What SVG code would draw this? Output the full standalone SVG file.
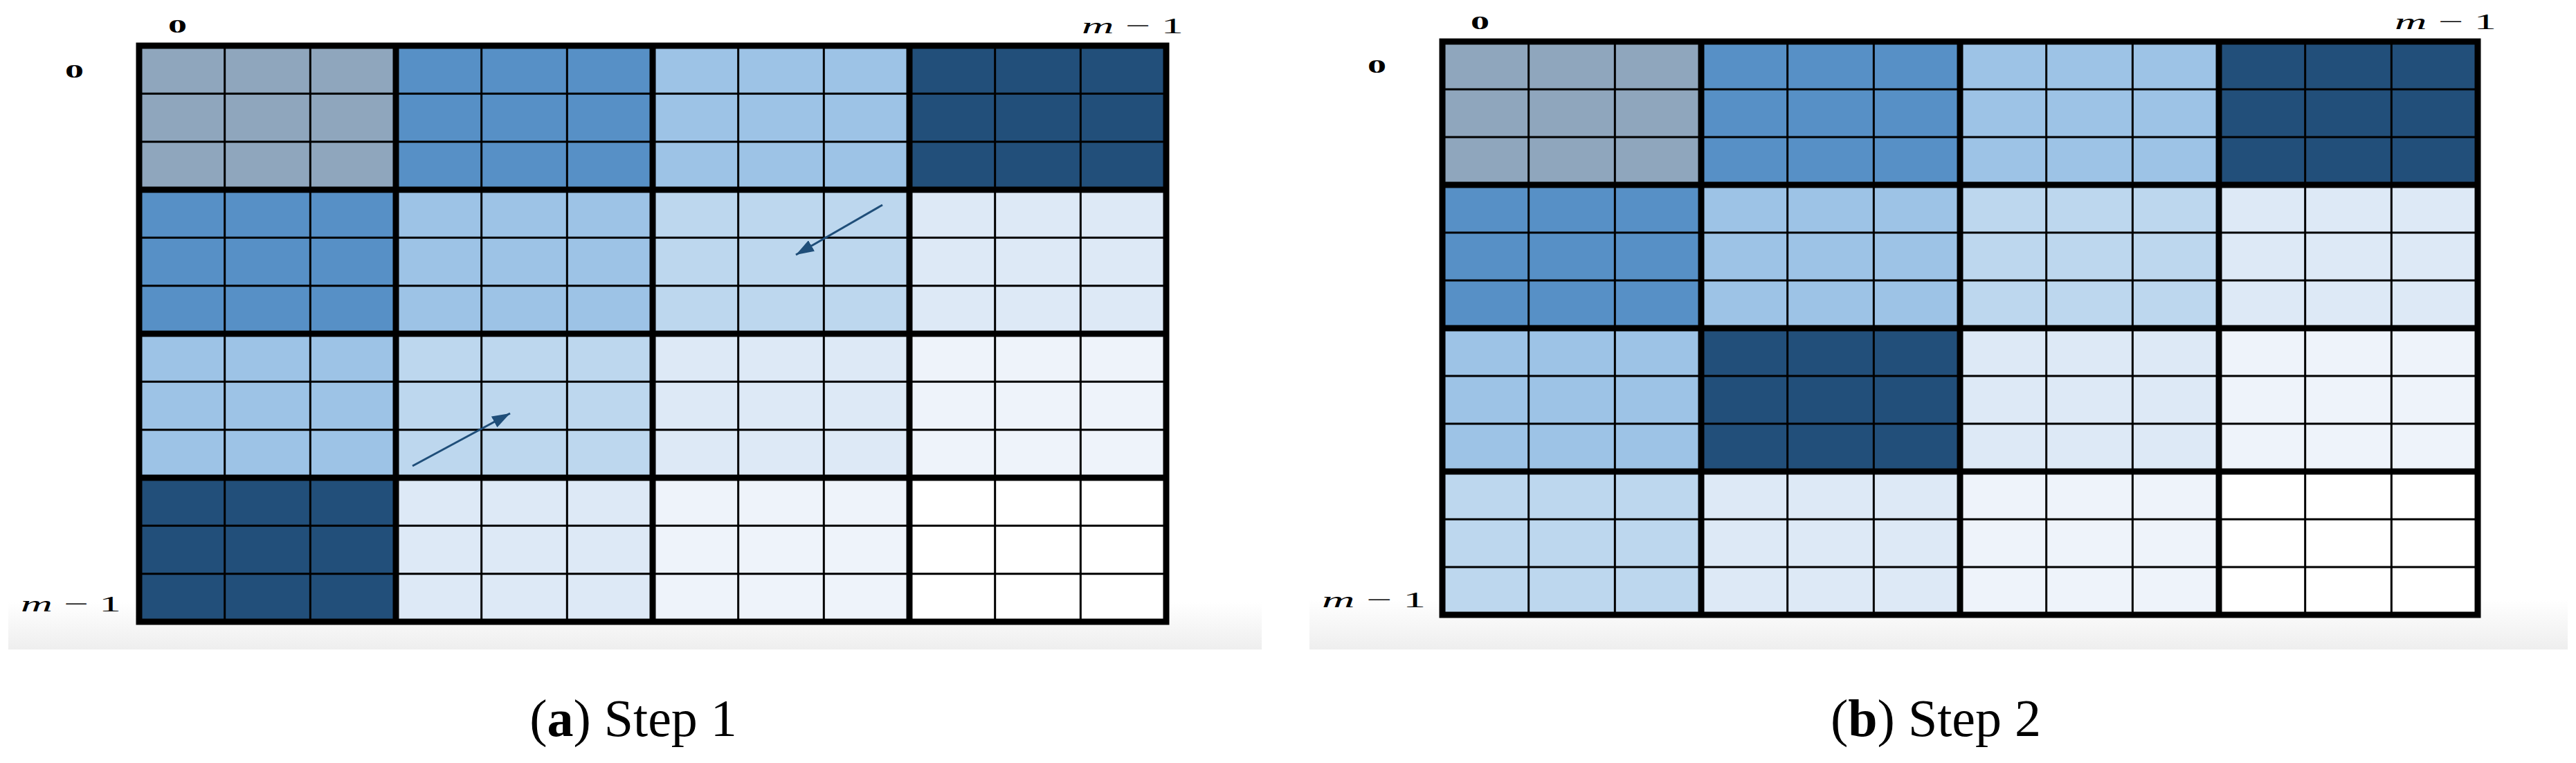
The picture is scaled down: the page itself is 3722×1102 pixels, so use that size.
<svg xmlns="http://www.w3.org/2000/svg" width="3722" height="1102" viewBox="0 0 3722 1102">
<style>
.gray{fill:#8FA6BD}.med{fill:#5790C6}.light{fill:#9DC3E6}.lighter{fill:#BDD7EE}.vlight{fill:#DDE9F6}.lightest{fill:#EEF3FA}.navy{fill:#224F7A}.white{fill:#FFFFFF}
.thin{fill:none;stroke:#000;stroke-width:3}
.thick{fill:none;stroke:#000;stroke-width:9;stroke-linecap:square}
.lbl{font-family:"Liberation Serif","DejaVu Serif",serif;fill:#000}
.zero{font-weight:bold;font-size:28px}
.mm{font-size:32px}
.cap{font-family:"Liberation Serif","DejaVu Serif",serif;font-size:76px;fill:#000}
.conn{stroke:#1F4E79;stroke-width:3;fill:none}
</style>
<defs>
<linearGradient id="band" x1="0" y1="0" x2="0" y2="1">
<stop offset="0" stop-color="#ffffff"/>
<stop offset="1" stop-color="#eeeeee"/>
</linearGradient>
<marker id="ah" markerUnits="userSpaceOnUse" markerWidth="28" markerHeight="18" refX="26" refY="9" orient="auto">
<path d="M0,0 L26,9 L0,18 z" fill="#1F4E79"/>
</marker>
</defs>
<rect x="0" y="0" width="3722" height="1102" fill="#ffffff"/>
<rect x="12" y="870" width="1811" height="68" fill="url(#band)"/>
<rect x="1892" y="866" width="1818" height="72" fill="url(#band)"/>

<g id="panel-a" transform="translate(201,66)">
<g id="a-blocks">
<rect id="a-b00" class="gray" x="0" y="0" width="371" height="208"/>
<rect id="a-b01" class="med" x="371" y="0" width="371" height="208"/>
<rect id="a-b02" class="light" x="742" y="0" width="371" height="208"/>
<rect id="a-b03" class="navy" x="1113" y="0" width="371" height="208"/>
<rect id="a-b10" class="med" x="0" y="208" width="371" height="208"/>
<rect id="a-b11" class="light" x="371" y="208" width="371" height="208"/>
<rect id="a-b12" class="lighter" x="742" y="208" width="371" height="208"/>
<rect id="a-b13" class="vlight" x="1113" y="208" width="371" height="208"/>
<rect id="a-b20" class="light" x="0" y="416" width="371" height="208"/>
<rect id="a-b21" class="lighter" x="371" y="416" width="371" height="208"/>
<rect id="a-b22" class="vlight" x="742" y="416" width="371" height="208"/>
<rect id="a-b23" class="lightest" x="1113" y="416" width="371" height="208"/>
<rect id="a-b30" class="navy" x="0" y="624" width="371" height="208"/>
<rect id="a-b31" class="vlight" x="371" y="624" width="371" height="208"/>
<rect id="a-b32" class="lightest" x="742" y="624" width="371" height="208"/>
<rect id="a-b33" class="white" x="1113" y="624" width="371" height="208"/>
</g>
<path class="thin" d="M123.67,0V832M247.33,0V832M494.67,0V832M618.33,0V832M865.67,0V832M989.33,0V832M1236.67,0V832M1360.33,0V832M0,69.33H1484M0,138.67H1484M0,277.33H1484M0,346.67H1484M0,485.33H1484M0,554.67H1484M0,693.33H1484M0,762.67H1484"/>
<path class="thick" d="M0,0V832M371,0V832M742,0V832M1113,0V832M1484,0V832M0,0H1484M0,208H1484M0,416H1484M0,624H1484M0,832H1484"/>
</g>

<g id="panel-b" transform="translate(2084,60)">
<g id="b-blocks">
<rect id="b-b00" class="gray" x="0" y="0" width="374" height="207"/>
<rect id="b-b01" class="med" x="374" y="0" width="374" height="207"/>
<rect id="b-b02" class="light" x="748" y="0" width="374" height="207"/>
<rect id="b-b03" class="navy" x="1122" y="0" width="374" height="207"/>
<rect id="b-b10" class="med" x="0" y="207" width="374" height="207"/>
<rect id="b-b11" class="light" x="374" y="207" width="374" height="207"/>
<rect id="b-b12" class="lighter" x="748" y="207" width="374" height="207"/>
<rect id="b-b13" class="vlight" x="1122" y="207" width="374" height="207"/>
<rect id="b-b20" class="light" x="0" y="414" width="374" height="207"/>
<rect id="b-b21" class="navy" x="374" y="414" width="374" height="207"/>
<rect id="b-b22" class="vlight" x="748" y="414" width="374" height="207"/>
<rect id="b-b23" class="lightest" x="1122" y="414" width="374" height="207"/>
<rect id="b-b30" class="lighter" x="0" y="621" width="374" height="207"/>
<rect id="b-b31" class="vlight" x="374" y="621" width="374" height="207"/>
<rect id="b-b32" class="lightest" x="748" y="621" width="374" height="207"/>
<rect id="b-b33" class="white" x="1122" y="621" width="374" height="207"/>
</g>
<path class="thin" d="M124.67,0V828M249.33,0V828M498.67,0V828M623.33,0V828M872.67,0V828M997.33,0V828M1246.67,0V828M1371.33,0V828M0,69H1496M0,138H1496M0,276H1496M0,345H1496M0,483H1496M0,552H1496M0,690H1496M0,759H1496"/>
<path class="thick" d="M0,0V828M374,0V828M748,0V828M1122,0V828M1496,0V828M0,0H1496M0,207H1496M0,414H1496M0,621H1496M0,828H1496"/>
</g>

<g id="connectors">
<line class="conn" x1="1275" y1="296" x2="1150" y2="368" marker-end="url(#ah)"/>
<line class="conn" x1="596" y1="673" x2="737" y2="597" marker-end="url(#ah)"/>
</g>

<g id="labels">
<text class="lbl zero" x="243" y="47" textLength="27" lengthAdjust="spacingAndGlyphs">0</text>
<text class="lbl zero" x="94" y="112" textLength="27" lengthAdjust="spacingAndGlyphs">0</text>
<text class="lbl mm" x="1563" y="48" textLength="147" lengthAdjust="spacingAndGlyphs"><tspan font-style="italic">m</tspan> − 1</text>
<text class="lbl mm" x="30" y="883" textLength="145" lengthAdjust="spacingAndGlyphs"><tspan font-style="italic">m</tspan> − 1</text>
<text class="lbl zero" x="2125" y="42" textLength="27" lengthAdjust="spacingAndGlyphs">0</text>
<text class="lbl zero" x="1976" y="105" textLength="27" lengthAdjust="spacingAndGlyphs">0</text>
<text class="lbl mm" x="3460" y="42" textLength="147" lengthAdjust="spacingAndGlyphs"><tspan font-style="italic">m</tspan> − 1</text>
<text class="lbl mm" x="1910" y="877" textLength="150" lengthAdjust="spacingAndGlyphs"><tspan font-style="italic">m</tspan> − 1</text>
</g>

<g id="captions">
<text class="cap" x="915" y="1063" text-anchor="middle">(<tspan font-weight="bold">a</tspan>) Step 1</text>
<text class="cap" x="2797" y="1063" text-anchor="middle">(<tspan font-weight="bold">b</tspan>) Step 2</text>
</g>
</svg>
